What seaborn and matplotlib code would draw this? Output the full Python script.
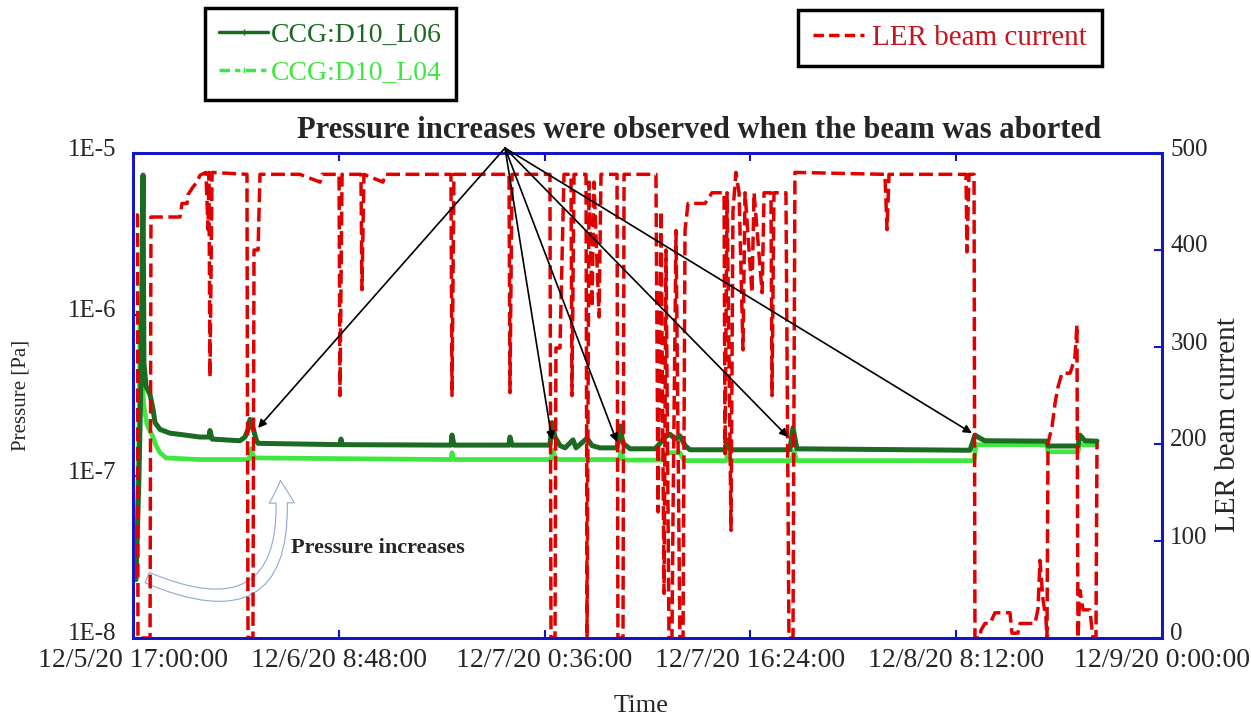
import numpy as np
import pandas as pd
import matplotlib
matplotlib.use("Agg")
import matplotlib.pyplot as plt
import seaborn as sns
from matplotlib.lines import Line2D
from matplotlib.patches import FancyArrowPatch
from matplotlib.transforms import ScaledTranslation

# ---------------- data (hours after 12/5/20 17:00:00) ----------------
ler_hours = [0.23, 0.35, 0.38, 1.31, 1.38, 3.61, 3.76, 4.15, 4.22, 4.61, 4.91, 5.14, 5.60, 5.76,
             5.83, 5.91, 6.07, 8.75, 8.83, 9.21, 9.29, 9.60, 9.75, 12.82, 14.36, 14.51, 15.82,
             15.89, 16.05, 17.50, 17.58, 17.73, 19.19, 19.35, 24.41, 24.49, 24.64, 28.87, 28.94,
             29.10, 32.01, 32.09, 32.40, 32.47, 32.78, 33.09, 33.63, 33.70, 33.86, 34.78, 34.86,
             35.01, 35.24, 35.39, 35.78, 35.93, 37.16, 37.23, 37.62, 37.70, 40.15, 40.31, 40.54,
             40.77, 40.92, 41.15, 41.38, 41.46, 41.69, 41.99, 42.23, 42.38, 42.61, 43.92, 44.45,
             45.07, 45.38, 45.45, 45.61, 45.91, 46.06, 46.29, 46.53, 46.83, 46.99, 47.52, 47.68,
             48.30, 48.45, 48.98, 49.06, 49.21, 50.13, 50.36, 50.67, 50.82, 57.73, 57.89, 58.04,
             63.95, 64.03, 64.18, 64.57, 64.64, 65.03, 65.10, 65.41, 65.79, 66.18, 67.33, 67.48,
             67.94, 68.10, 69.25, 69.48, 69.63, 69.86, 70.09, 70.17, 70.25, 70.55, 70.79, 71.02,
             71.32, 71.94, 72.09, 72.32, 72.47, 72.55, 72.70, 72.94, 73.47, 73.55, 73.70, 73.93,
             74.01]
ler_current = [436, 436, 0, 0, 434, 434, 448, 448, 457, 465, 470, 477, 480, 421,
               480, 269, 480, 478, 0, 0, 400, 400, 478, 478, 470, 478, 478,
               250, 478, 478, 359, 478, 470, 478, 478, 250, 478, 478, 253,
               478, 478, 0, 0, 299, 299, 478, 478, 250, 478, 478, 0,
               470, 341, 470, 331, 478, 478, 0, 0, 478, 478, 130, 440,
               46, 400, 0, 0, 130, 420, 0, 0, 420, 448, 448, 459,
               459, 459, 190, 459, 111, 440, 480, 459, 297, 459, 356, 459,
               356, 459, 459, 250, 459, 459, 0, 0, 480, 478, 421, 478,
               478, 398, 478, 478, 0, 0, 8, 15, 15, 26, 26, 5,
               5, 15, 15, 30, 80, 40, 20, 0, 201, 217, 242, 259,
               273, 273, 279, 290, 323, 0, 49, 29, 29, 18, 0, 0,
               201]

l06_hours = [0.23, 0.46, 0.61, 0.69, 0.77, 0.84, 1.00, 1.31, 1.54, 1.69, 2.07, 2.84, 3.99, 5.14,
             5.83, 5.91, 6.07, 8.21, 8.60, 8.83, 8.98, 9.21, 9.44, 9.60, 15.89, 15.97, 16.05,
             24.41, 24.49, 24.64, 28.87, 28.94, 29.10, 32.01, 32.17, 32.40, 32.78, 33.17, 33.78,
             34.01, 34.86, 35.24, 35.85, 37.16, 37.39, 37.62, 38.16, 40.07, 40.46, 40.84, 41.23,
             41.61, 41.99, 42.38, 42.76, 45.45, 45.61, 45.84, 50.44, 50.67, 50.97, 64.26, 64.64,
             65.03, 65.41, 70.17, 70.25, 72.55, 72.70, 73.09, 74.01]
l06_pressure = [2.3e-8, 1.0e-7, 4.0e-7, 1.5e-6, 7.3e-6, 5.0e-7, 3.6e-7, 3.2e-7, 2.6e-7, 2.15e-7,
                1.95e-7, 1.85e-7, 1.8e-7, 1.75e-7, 1.75e-7, 1.92e-7, 1.7e-7, 1.66e-7, 1.75e-7,
                1.95e-7, 2.25e-7, 2.0e-7, 1.7e-7, 1.6e-7, 1.57e-7, 1.7e-7, 1.57e-7, 1.56e-7,
                1.8e-7, 1.56e-7, 1.56e-7, 1.75e-7, 1.56e-7, 1.56e-7, 2.15e-7, 1.75e-7, 1.55e-7,
                1.5e-7, 1.68e-7, 1.5e-7, 1.72e-7, 1.55e-7, 1.5e-7, 1.5e-7, 2.05e-7, 1.6e-7,
                1.48e-7, 1.48e-7, 1.6e-7, 1.75e-7, 1.82e-7, 1.7e-7, 1.78e-7, 1.55e-7, 1.46e-7,
                1.46e-7, 1.68e-7, 1.46e-7, 1.46e-7, 2.0e-7, 1.48e-7, 1.45e-7, 1.8e-7, 1.72e-7,
                1.66e-7, 1.65e-7, 1.54e-7, 1.54e-7, 1.8e-7, 1.66e-7, 1.65e-7]

l04_hours = [0.15, 0.31, 0.46, 0.54, 0.61, 0.69, 0.84, 1.07, 1.31, 1.54, 1.77, 2.07, 2.53, 5.14,
             8.91, 9.06, 9.29, 24.41, 24.49, 24.64, 32.09, 32.24, 32.47, 37.31, 37.47, 37.70,
             40.61, 40.84, 41.99, 42.30, 45.53, 45.68, 45.91, 50.59, 50.74, 50.97, 64.57, 64.72,
             70.17, 70.25, 72.55, 72.70, 74.01]
l04_pressure = [2.3e-8, 5e-8, 2.0e-7, 9.0e-7, 6e-7, 4e-7, 2.7e-7, 2.1e-7, 1.9e-7, 1.75e-7,
                1.55e-7, 1.4e-7, 1.3e-7, 1.27e-7, 1.27e-7, 1.48e-7, 1.3e-7, 1.27e-7, 1.4e-7,
                1.27e-7, 1.27e-7, 1.45e-7, 1.27e-7, 1.27e-7, 1.42e-7, 1.26e-7, 1.26e-7, 1.4e-7,
                1.4e-7, 1.25e-7, 1.25e-7, 1.4e-7, 1.25e-7, 1.25e-7, 1.42e-7, 1.25e-7, 1.25e-7,
                1.57e-7, 1.57e-7, 1.42e-7, 1.42e-7, 1.57e-7, 1.57e-7]

xtick_hours = [0, 15.8, 31.6, 47.4, 63.2, 79.0]
xtick_labels = ["12/5/20 17:00:00", "12/6/20 8:48:00", "12/7/20 0:36:00",
                "12/7/20 16:24:00", "12/8/20 8:12:00", "12/9/20 0:00:00"]
left_ticks = [1e-8, 1e-7, 1e-6, 1e-5]
left_labels = ["1E-8", "1E-7", "1E-6", "1E-5"]
right_ticks = [0, 100, 200, 300, 400, 500]

# arrow targets (hours, Pa) for "beam aborted" pressure bumps
abort_hours = [9.60, 32.17, 37.16, 50.29, 64.41]
abort_pressure = [1.99e-7, 1.68e-7, 1.63e-7, 1.75e-7, 1.85e-7]

# ---------------- style ----------------
sns.set_style("white")
plt.rcParams['font.family'] = ['Liberation Serif', 'DejaVu Serif']

DG = "#1C6B22"
LG = "#3FE83F"
RED = "#E00000"
BLUE = "#1414C8"

fig = plt.figure(figsize=(12.51, 7.17), dpi=100)
ax = fig.add_axes([133/1251, 1-638/717, (1162-133)/1251, (638-153)/717])
ax2 = ax.twinx()

df06 = pd.DataFrame({"t": l06_hours, "p": l06_pressure})
df04 = pd.DataFrame({"t": l04_hours, "p": l04_pressure})
dfler = pd.DataFrame({"t": ler_hours, "i": ler_current})

sns.lineplot(data=df04, x="t", y="p", ax=ax, color=LG, lw=3.4, sort=False, estimator=None)
sns.lineplot(data=df06, x="t", y="p", ax=ax, color=DG, lw=3.6, sort=False, estimator=None)
sns.lineplot(data=dfler, x="t", y="i", ax=ax2, color=RED, lw=2.5, sort=False, estimator=None,
             linestyle=(0, (4, 1.6)))

ax.set_yscale("log")
ax.set_xlim(0, 79)
ax.set_ylim(1e-8, 1e-5)
ax2.set_ylim(0, 500)

ax.set_xticks(xtick_hours)
ax.set_xticklabels(xtick_labels, fontsize=20)
ax.set_yticks(left_ticks)
ax.set_yticklabels(left_labels, fontsize=18)
ax.yaxis.set_minor_locator(matplotlib.ticker.NullLocator())
ax2.set_yticks(right_ticks)
ax2.set_yticklabels([str(v) for v in right_ticks], fontsize=18)

ax.tick_params(axis='x', direction='in', top=True, bottom=True, length=6, width=1.5,
               color=BLUE, pad=7)
ax.tick_params(axis='y', direction='in', left=True, right=False, length=6, width=1.5,
               color=BLUE, pad=12)
ax2.tick_params(axis='y', direction='in', right=True, left=False, length=6, width=1.5,
                color=BLUE, pad=6)
up = ScaledTranslation(0, 6/100, fig.dpi_scale_trans)
for lab in ax.get_yticklabels() + ax2.get_yticklabels():
    lab.set_transform(lab.get_transform() + up)
for a in (ax, ax2):
    for s in a.spines.values():
        s.set_color(BLUE)
        s.set_linewidth(2)
ax.set_xlabel("")
ax.set_ylabel("")
ax2.set_ylabel("")

fig.text(21/1251, 1-395/717, "Pressure [Pa]", rotation=90, ha='center', va='center', fontsize=15)
fig.text(1228/1251, 1-425/717, "LER beam current", rotation=90, ha='center', va='center', fontsize=21)
fig.text(641/1251, 1-706/717, "Time", ha='center', va='center', fontsize=19)

# legends
h06 = Line2D([], [], color=DG, lw=2.5, marker='|', ms=4, label="CCG:D10_L06")
h04 = Line2D([], [], color=LG, lw=2.5, linestyle=(0, (3, 1.5, 1.5, 1.5)), marker='|', ms=4,
             label="CCG:D10_L04")
hler = Line2D([], [], color=RED, lw=2.5, linestyle=(0, (3, 1.5)), label="LER beam current")
leg1 = ax.legend(handles=[h06, h04], loc='upper left', bbox_to_anchor=(205/1251, 1-8/717),
                 bbox_transform=fig.transFigure, frameon=True, fancybox=False, framealpha=1,
                 edgecolor='black', fontsize=20, labelcolor=[DG, LG], handlelength=1.75,
                 handletextpad=0.1, labelspacing=0.45, borderpad=0.52, borderaxespad=0)
leg1.get_frame().set_linewidth(2.5)
leg2 = ax2.legend(handles=[hler], loc='upper left', bbox_to_anchor=(798/1251, 1-10/717),
                  bbox_transform=fig.transFigure, frameon=True, fancybox=False, framealpha=1,
                  edgecolor='black', fontsize=21, labelcolor=["#C8141E"], handlelength=1.75,
                  handletextpad=0.3, borderpad=0.5, borderaxespad=0)
leg2.get_frame().set_linewidth(2.5)

# annotations
fig.text(699/1251, 1-130/717, "Pressure increases were observed when the beam was aborted",
         ha='center', va='center', fontsize=22, fontweight='bold')
apex = (505/1251, 1-148/717)
for th, tp in zip(abort_hours, abort_pressure):
    ax2.annotate("", xy=(th, tp), xycoords=ax.transData, xytext=apex,
                 textcoords='figure fraction', annotation_clip=False,
                 arrowprops=dict(arrowstyle='-|>', color='black', lw=1.2, shrinkA=0, shrinkB=0,
                                 mutation_scale=12))

fig.text(378/1251, 1-548/717, "Pressure increases", ha='center', va='center', fontsize=16,
         fontweight='bold')
curve = FancyArrowPatch(posA=(0.9, 2.4e-8), posB=(11.3, 9.8e-8), transform=ax.transData,
                        connectionstyle='arc3,rad=0.85',
                        arrowstyle='simple,head_length=0.9,head_width=1.0,tail_width=0.45',
                        mutation_scale=18, fc='white', ec='#8FA8D8', lw=0.8, zorder=1)
ax.add_patch(curve)
ax.set_xlim(0, 79)
ax.set_ylim(1e-8, 1e-5)

fig.savefig("out.png", dpi=100)
